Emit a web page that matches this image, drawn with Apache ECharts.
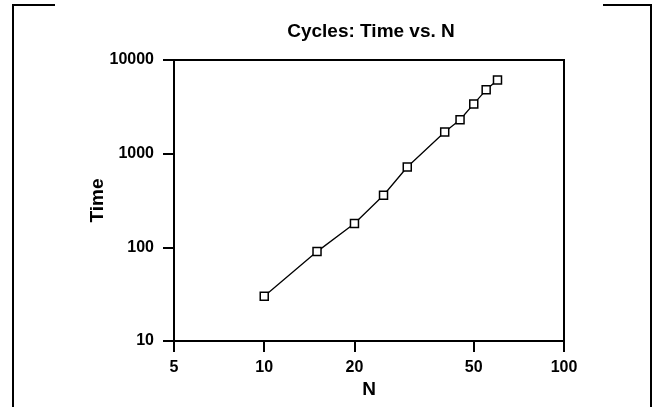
<!DOCTYPE html>
<html>
<head>
<meta charset="utf-8">
<script src="https://cdn.jsdelivr.net/npm/echarts@6/dist/echarts.min.js"></script>
<style>
  html, body { margin: 0; padding: 0; background: #fff; }
  #chart { width: 660px; height: 407px; }
</style>
</head>
<body>
<div id="chart"></div>
<script>
// data
const nValues = [10, 15, 20, 25, 30, 40, 45, 50, 55, 60];
const timeValues = [30, 90, 180, 360, 720, 1700, 2300, 3400, 4800, 6100];
const xTicks = [5, 10, 20, 50, 100];
const yTicks = [10, 100, 1000, 10000];

const chart = echarts.init(document.getElementById('chart'));

const font = 'Liberation Sans, Arial, sans-serif';

const option = {
    backgroundColor: '#fff',
    animation: false,
    title: {
        text: 'Cycles: Time vs. N',
        left: 366,
        top: 17,
        textAlign: 'center',
        textStyle: { fontFamily: font, fontSize: 19, fontWeight: 'bold', color: '#000' }
    },
    grid: {
        left: 174,
        right: 96,
        top: 60,
        bottom: 66,
        show: true,
        borderColor: '#000',
        borderWidth: 2,
        backgroundColor: 'transparent'
    },
    // corner brackets of the page frame
    graphic: [
        { type: 'polyline', shape: { points: [[55, 5], [13, 5], [13, 407]] }, style: { stroke: '#000', lineWidth: 2, fill: null } },
        { type: 'polyline', shape: { points: [[603, 5], [651, 5], [651, 407]] }, style: { stroke: '#000', lineWidth: 2, fill: null } }
    ],
    xAxis: {
        type: 'log',
        logBase: 10,
        min: 5,
        max: 100,
        name: 'N',
        nameLocation: 'middle',
        nameGap: 39,
        nameMoveOverlap: false,
        nameTextStyle: { fontFamily: font, fontSize: 19, fontWeight: 'bold', color: '#000' },
        axisLine: { show: true, lineStyle: { color: '#000', width: 2 } },
        axisTick: { show: true, inside: false, length: 11, lineStyle: { color: '#000', width: 2 }, customValues: xTicks },
        axisLabel: {
            margin: 19,
            fontFamily: font, fontSize: 16, fontWeight: 'bold', color: '#000',
            customValues: xTicks,
            formatter: v => String(Math.round(v))
        },
        splitLine: { show: false },
        minorTick: { show: false }
    },
    yAxis: {
        type: 'log',
        logBase: 10,
        min: 10,
        max: 10000,
        name: 'Time',
        nameLocation: 'middle',
        nameGap: 67,
        nameMoveOverlap: false,
        nameRotate: 90,
        nameTextStyle: { fontFamily: font, fontSize: 19, fontWeight: 'bold', color: '#000' },
        axisLine: { show: true, lineStyle: { color: '#000', width: 2 } },
        axisTick: { show: true, inside: false, length: 11, lineStyle: { color: '#000', width: 2 }, customValues: yTicks },
        axisLabel: {
            margin: 20,
            fontFamily: font, fontSize: 16, fontWeight: 'bold', color: '#000',
            customValues: yTicks,
            formatter: v => String(Math.round(v))
        },
        splitLine: { show: false }
    },
    series: [
        {
            type: 'line',
            data: nValues.map((n, i) => [n, timeValues[i]]),
            symbol: 'rect',
            symbolSize: 8,
            showSymbol: true,
            lineStyle: { color: '#000', width: 1.3 },
            itemStyle: { color: '#fff', borderColor: '#000', borderWidth: 1.5 }
        }
    ]
};

chart.setOption(option);
</script>
</body>
</html>
